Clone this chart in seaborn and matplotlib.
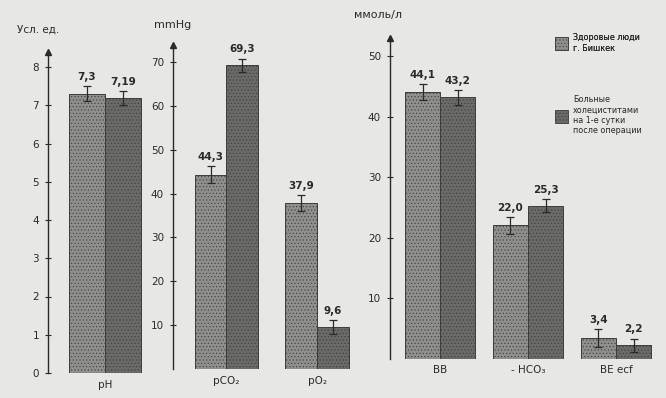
import pandas as pd
import matplotlib.pyplot as plt
import seaborn as sns

groups = ['Здоровые люди\nг. Бишкек', 'Больные\nхолециститами\nна 1-е сутки\nпосле операции']

ph_params = ['pH']
ph_healthy = [7.3]
ph_sick = [7.19]
ph_err_healthy = [0.2]
ph_err_sick = [0.18]

gas_params = ['pCO₂', 'pO₂']
gas_healthy = [44.3, 37.9]
gas_sick = [69.3, 9.6]
gas_err_healthy = [2.0, 1.8]
gas_err_sick = [1.5, 1.6]

base_params = ['BB', '- HCO₃', 'BE ecf']
base_healthy = [44.1, 22.0, 3.4]
base_sick = [43.2, 25.3, 2.2]
base_err_healthy = [1.3, 1.4, 1.5]
base_err_sick = [1.2, 1.1, 1.1]

sns.set_theme(style="white")
plt.rcParams['font.family'] = ['DejaVu Sans']
plt.rcParams['hatch.color'] = '#4a4a48'
plt.rcParams['hatch.linewidth'] = 0.4

bg = '#e7e7e4'
palette = ['#8f8f8c', '#6a6a67']

W, H = 666, 398
fig = plt.figure(figsize=(W / 100, H / 100), dpi=100, facecolor=bg)


def place(left, right, top, bottom):
    return fig.add_axes([left / W, 1 - bottom / H, (right - left) / W, (bottom - top) / H])


def make_frame(params, healthy, sick):
    return pd.DataFrame({
        'param': params * 2,
        'group': [groups[0]] * len(params) + [groups[1]] * len(params),
        'value': healthy + sick,
    })


def draw_panel(ax, params, healthy, sick, err_h, err_s, width):
    df = make_frame(params, healthy, sick)
    sns.barplot(data=df, x='param', y='value', hue='group', hue_order=groups,
                palette=palette, width=width, errorbar=None, legend=False,
                edgecolor='#3c3c3a', linewidth=0.7, saturation=1, ax=ax)
    for bar in ax.patches:
        bar.set_hatch('.....')
    for cont, vals, errs in zip(ax.containers, [healthy, sick], [err_h, err_s]):
        for bar, v, e in zip(cont, vals, errs):
            cx = bar.get_x() + bar.get_width() / 2
            ax.errorbar(cx, v, yerr=e, fmt='none', ecolor='#2a2a2a',
                        elinewidth=0.9, capsize=3, capthick=0.9)
            ax.annotate(f'{v}'.replace('.', ','), (cx, v + e), xytext=(0, 3),
                        textcoords='offset points', ha='center', va='bottom',
                        fontsize=7.5, fontweight='bold', color='#2a2a2a')
    ax.set_facecolor('none')
    for s in ['top', 'right', 'bottom']:
        ax.spines[s].set_visible(False)
    ax.spines['left'].set_color('#2a2a2a')
    ax.spines['left'].set_linewidth(1.0)
    ax.plot(0, 1, marker='^', color='#2a2a2a', ms=4, transform=ax.transAxes, clip_on=False)
    ax.set_xlabel('')
    ax.set_ylabel('')
    ax.tick_params(axis='y', direction='inout', length=5, width=0.8, labelsize=7.5,
                   colors='#2a2a2a', pad=4, left=True)
    ax.tick_params(axis='x', length=0, labelsize=7.5, colors='#2a2a2a', pad=5)


# pH panel
ax1 = place(48, 165, 51.7, 373)
draw_panel(ax1, ph_params, ph_healthy, ph_sick, ph_err_healthy, ph_err_sick, 0.8)
ax1.set_xlim(-0.634, 0.669)
ax1.set_ylim(0, 8.4)
ax1.set_yticks(range(0, 9))

# blood gases panel
ax2 = place(173, 375, 45, 368.8)
draw_panel(ax2, gas_params, gas_healthy, gas_sick, gas_err_healthy, gas_err_sick, 0.7)
ax2.set_xlim(-0.59, 1.64)
ax2.set_ylim(0, 73.9)
ax2.set_yticks(range(10, 80, 10))

# buffer bases panel
ax3 = place(390, 660, 38, 358.5)
draw_panel(ax3, base_params, base_healthy, base_sick, base_err_healthy, base_err_sick, 0.8)
ax3.set_xlim(-0.57, 2.5)
ax3.set_ylim(0, 53)
ax3.set_yticks(range(10, 60, 10))

fig.text(17 / W, 1 - 30 / H, 'Усл. ед.', fontsize=7.5, color='#2a2a2a', va='center')
fig.text(154 / W, 1 - 25 / H, 'mmHg', fontsize=8, color='#2a2a2a', va='center')
fig.text(354 / W, 1 - 15 / H, 'ммоль/л', fontsize=8, color='#2a2a2a', va='center')

# legend, one entry per box
handles = [plt.Rectangle((0, 0), 1, 1, facecolor=c, edgecolor='#3c3c3a', hatch='.....', linewidth=0.6)
           for c in palette]
leg1 = fig.legend([handles[0]], [groups[0]], loc='upper left', bbox_to_anchor=(548 / W, 1 - 26 / H),
                  frameon=False, fontsize=5.8, handlelength=1.6, handleheight=2.1, handletextpad=0.6)
fig.add_artist(leg1)
fig.legend([handles[1]], [groups[1]], loc='upper left', bbox_to_anchor=(548 / W, 1 - 88 / H),
           frameon=False, fontsize=5.8, handlelength=1.6, handleheight=2.1, handletextpad=0.6)

fig.savefig('out.png', dpi=100, facecolor=bg)
